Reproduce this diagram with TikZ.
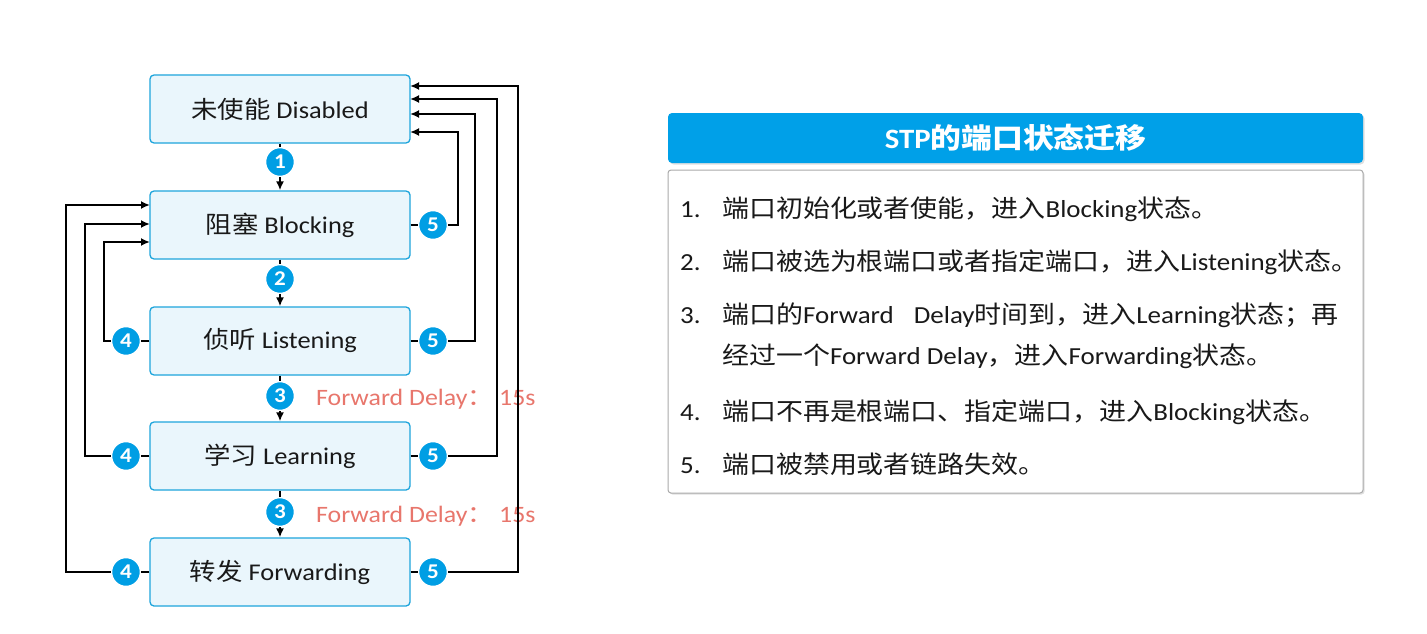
\documentclass[tikz,border=0pt]{standalone}
\usepackage{fontspec}
\setmainfont{Carlito}[FakeStretch=1.1]
\newfontfamily\cjk{Noto Sans CJK SC}[FakeStretch=1.1]
\usetikzlibrary{arrows.meta,shadows}
\definecolor{boxfill}{RGB}{234,246,252}
\definecolor{boxline}{RGB}{30,165,220}
\definecolor{dotblue}{RGB}{0,158,228}
\definecolor{hdrblue}{RGB}{0,160,232}
\definecolor{delayred}{RGB}{232,118,108}
\definecolor{panelline}{RGB}{170,170,170}
\definecolor{txt}{RGB}{25,25,25}
\tikzset{
  state/.style={draw=boxline, line width=1.3pt, fill=boxfill, rounded corners=4pt,
    minimum width=260pt, minimum height=68pt, inner sep=0pt, text=txt,
    font=\fontsize{24}{27}\selectfont},
  num/.style={circle, fill=dotblue, draw=white, line width=1.5pt, minimum size=29pt,
    inner sep=0pt, text=white, font=\bfseries\fontsize{21}{21}\selectfont},
  conn/.style={line width=1.8pt, draw=black},
  arr/.style={conn, -{Latex[length=9pt,width=8pt]}},
  delay/.style={anchor=west, text=delayred, inner sep=0pt, font=\fontsize{23.5}{26}\selectfont},
  item/.style={anchor=base west, inner sep=0pt, text=txt, font=\fontsize{24.5}{28}\selectfont},
  hdr/.style={fill=hdrblue, rounded corners=4pt, minimum width=695pt, minimum height=50pt,
    inner sep=0pt, text=white, font=\bfseries\fontsize{28}{30}\selectfont,
    drop shadow={opacity=0.25, shadow xshift=1.5pt, shadow yshift=-1.5pt}},
  panel/.style={draw=panelline, line width=1pt, fill=white, rounded corners=3pt,
    minimum width=695pt, minimum height=323pt, inner sep=0pt,
    drop shadow={opacity=0.25, shadow xshift=1.5pt, shadow yshift=-1.5pt}}
}
\begin{document}
\begin{tikzpicture}[x=1pt,y=-1pt]
\useasboundingbox[fill=white] (0,0) rectangle (1427,634);
% state boxes
\node[state] (dis) at (280,109) {{\cjk 未使能} Disabled};
\node[state] (blk) at (280,225) {{\cjk 阻塞} Blocking};
\node[state] (lis) at (280,341) {{\cjk 侦听} Listening};
\node[state] (lrn) at (280,456) {{\cjk 学习} Learning};
\node[state] (fwd) at (280,572) {{\cjk 转发} Forwarding};
% numbered circles
\node[num] (c1) at (280,162) {1};
\node[num] (c2) at (280,279) {2};
\node[num] (c3a) at (280,396) {3};
\node[num] (c3b) at (280,512) {3};
\node[num] (l4a) at (126,341) {4};
\node[num] (l4b) at (126,456) {4};
\node[num] (l4c) at (126,572) {4};
\node[num] (r5a) at (433,225) {5};
\node[num] (r5b) at (433,341) {5};
\node[num] (r5c) at (433,456) {5};
\node[num] (r5d) at (433,572) {5};
% delay labels
\node[delay] (d1) at (316,399) {Forward Delay{\cjk ：} 15s};
\node[delay] (d2) at (316,516) {Forward Delay{\cjk ：} 15s};
% endpoints on the state boxes
\coordinate (db1) at (410,132);
\coordinate (db2) at (410,114);
\coordinate (db3) at (410,99);
\coordinate (db4) at (410,86);
\coordinate (bb1) at (150,242);
\coordinate (bb2) at (150,224);
\coordinate (bb3) at (150,205);
% forward transitions
\draw[conn] (dis.south) -- (c1.north);
\draw[arr] (c1.south) -- (blk.north);
\draw[conn] (blk.south) -- (c2.north);
\draw[arr] (c2.south) -- (lis.north);
\draw[conn] (lis.south) -- (c3a.north);
\draw[arr] (c3a.south) -- (lrn.north);
\draw[conn] (lrn.south) -- (c3b.north);
\draw[arr] (c3b.south) -- (fwd.north);
% back to blocking (4)
\draw[conn] (lis.west) -- (l4a.east);
\draw[arr] (l4a.west) -| (104,242) -- (bb1);
\draw[conn] (lrn.west) -- (l4b.east);
\draw[arr] (l4b.west) -| (85,224) -- (bb2);
\draw[conn] (fwd.west) -- (l4c.east);
\draw[arr] (l4c.west) -| (66,205) -- (bb3);
% back to disabled (5)
\draw[conn] (blk.east) -- (r5a.west);
\draw[arr] (r5a.east) -| (458,132) -- (db1);
\draw[conn] (lis.east) -- (r5b.west);
\draw[arr] (r5b.east) -| (475,114) -- (db2);
\draw[conn] (lrn.east) -- (r5c.west);
\draw[arr] (r5c.east) -| (497,99) -- (db3);
\draw[conn] (fwd.east) -- (r5d.west);
\draw[arr] (r5d.east) -| (518,86) -- (db4);
% right panel
\node[hdr] (title) at (1015.5,138) {STP{\cjk 的端口状态迁移}};
\node[panel] (body) at (1015.5,331.5) {};
\node[item] (n1) at (680,217) {1.};
\node[item] (t1) at (722,217) {{\cjk 端口初始化或者使能，进入}Blocking{\cjk 状态。}};
\node[item] (n2) at (680,270) {2.};
\node[item] (t2) at (722,270) {{\cjk 端口被选为根端口或者指定端口，进入}Listening{\cjk 状态。}};
\node[item] (n3) at (680,323) {3.};
\node[item] (t3) at (722,323) {{\cjk 端口的}Forward\hspace{20pt}Delay{\cjk 时间到，进入}Learning{\cjk 状态；再}};
\node[item] (t3b) at (722,364) {{\cjk 经过一个}Forward Delay{\cjk ，进入}Forwarding{\cjk 状态。}};
\node[item] (n4) at (680,420) {4.};
\node[item] (t4) at (722,420) {{\cjk 端口不再是根端口、指定端口，进入}Blocking{\cjk 状态。}};
\node[item] (n5) at (680,473) {5.};
\node[item] (t5) at (722,473) {{\cjk 端口被禁用或者链路失效。}};
\end{tikzpicture}
\end{document}
